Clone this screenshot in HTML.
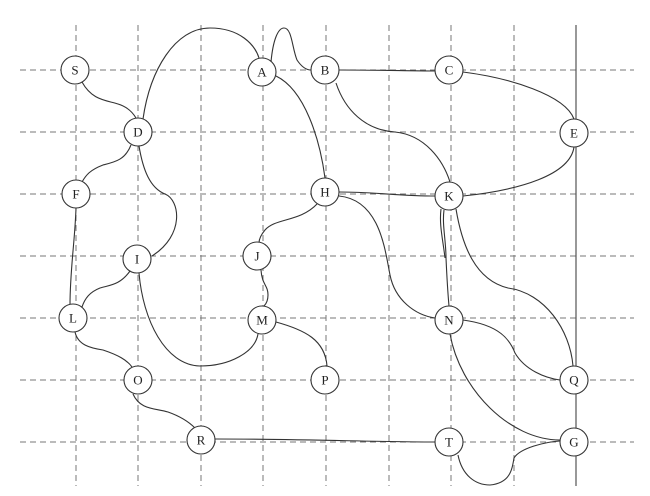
<!DOCTYPE html>
<html><head><meta charset="utf-8"><style>
html,body{margin:0;padding:0;background:#fff}
svg{display:block}
text{font-family:"Liberation Serif",serif;font-size:13px;fill:#222}
</style></head><body>
<svg width="650" height="496" viewBox="0 0 650 496">
<g id="grid"></g>
<line x1="576" y1="25" x2="576" y2="486" stroke="#555" stroke-width="1.2"/>
<g id="edges" fill="none" stroke="#333" stroke-width="1.1">
<path d="M82,82 C92,100 105,100 118,104 C128,107 133,113 136,118"/>
<path d="M143,119 C150,70 175,28 210,28 C240,28 255,45 259,58"/>
<path d="M271,62 C273,40 278,28 284,28 C292,28 292,48 297,60 C301,66 306,70 311,70"/>
<path d="M276,76 C305,90 320,140 325,178"/>
<path d="M339,70 C380,70 410,71 435,71"/>
<path d="M336,83 C345,110 365,130 395,132 C425,135 443,160 450,182"/>
<path d="M463,72 C510,78 565,95 574,119"/>
<path d="M574,147 C570,175 520,190 463,196"/>
<path d="M339,192 C375,192 400,196 435,196"/>
<path d="M131,145 C125,160 115,162 103,165 C90,170 86,175 82,182"/>
<path d="M139,146 C143,170 150,188 165,194 C180,200 185,235 152,256"/>
<path d="M76,208 C75,240 70,270 70,305"/>
<path d="M130,271 C120,285 110,285 100,288 C90,292 85,298 82,307"/>
<path d="M139,273 C143,320 165,365 200,366 C230,366 255,352 258,334"/>
<path d="M317,204 C300,222 275,218 265,230 C260,236 259,240 259,243"/>
<path d="M261,270 C262,285 268,285 268,295 C268,300 266,304 264,306"/>
<path d="M276,322 C305,330 325,340 327,366"/>
<path d="M339,196 C380,200 385,250 390,275 C395,300 415,315 435,318"/>
<path d="M444,210 C442,225 446,240 446,258 C447,280 448,295 449,306"/>
<path d="M441,209 C439,225 443,240 445,258"/>
<path d="M456,209 C462,245 475,280 508,288 C545,293 570,330 573,366"/>
<path d="M463,320 C500,325 510,340 515,353 C525,370 545,378 560,380"/>
<path d="M450,334 C460,390 510,440 560,440"/>
<path d="M75,332 C78,345 90,348 103,350 C118,355 127,360 132,367"/>
<path d="M133,394 C140,410 155,408 168,412 C185,418 192,425 195,428"/>
<path d="M215,439 C300,439 380,442 435,442"/>
<path d="M458,455 C462,475 475,485 490,485 C510,483 512,470 514,458 C520,448 545,442 560,441"/>
</g>
<g id="nodes"></g>
<script>
const colX=[76,138,201,263,326,389,451,514,576];
const rowY=[70,132,194,256,318,380,442];
const nodeNames=["S","A","B","C","D","E","F","H","K","I","J","L","M","N","O","P","Q","R","T","G"];
const nodeX=[75,262,325,449,138,574,76,325,449,137,257,73,262,449,138,325,574,201,449,574];
const nodeY=[70,72,70,70,132,133,194,192,196,259,256,318,320,320,380,380,380,440,442,442];
const NS="http://www.w3.org/2000/svg";
const grid=document.getElementById('grid');
colX.forEach((x,i)=>{
 if(i===8) return;
 const l=document.createElementNS(NS,'line');
 l.setAttribute('x1',x);l.setAttribute('x2',x);l.setAttribute('y1',25);l.setAttribute('y2',486);
 l.setAttribute('stroke','#777');l.setAttribute('stroke-dasharray','6,4');l.setAttribute('stroke-width','1');
 
 
 grid.appendChild(l);
});
rowY.forEach((y,i)=>{
 const l=document.createElementNS(NS,'line');
 l.setAttribute('x1',20);l.setAttribute('x2',634);l.setAttribute('y1',y);l.setAttribute('y2',y);
 l.setAttribute('stroke','#777');l.setAttribute('stroke-dasharray','6,4');l.setAttribute('stroke-width','1');
 
 
 grid.appendChild(l);
});
const ng=document.getElementById('nodes');
nodeNames.forEach((n,i)=>{
 const g=document.createElementNS(NS,'g');
 
 
 const c=document.createElementNS(NS,'circle');
 c.setAttribute('cx',nodeX[i]);c.setAttribute('cy',nodeY[i]);c.setAttribute('r',14);
 c.setAttribute('fill','#fff');c.setAttribute('stroke','#333');c.setAttribute('stroke-width','1.1');
 const t=document.createElementNS(NS,'text');
 t.setAttribute('x',nodeX[i]);t.setAttribute('y',nodeY[i]+4.5);t.setAttribute('text-anchor','middle');
 t.textContent=n;
 g.appendChild(c);g.appendChild(t);ng.appendChild(g);
});
</script>
</svg>
</body></html>
